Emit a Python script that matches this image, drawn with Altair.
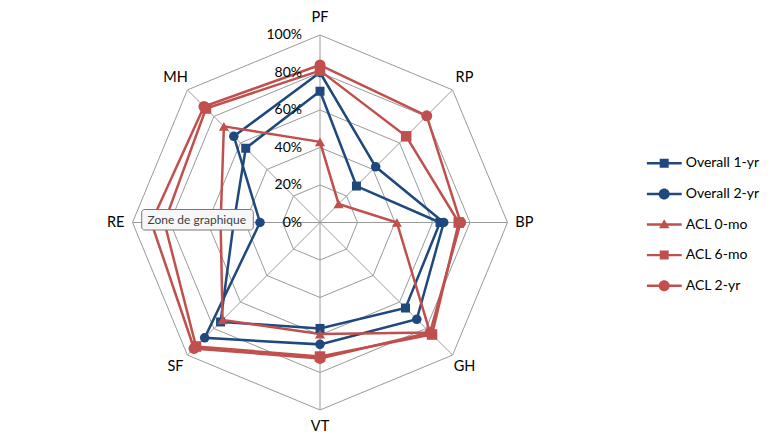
import math
import altair as alt
import pandas as pd

# ---------------- data ----------------
axes = ["PF", "RP", "BP", "GH", "VT", "SF", "RE", "MH"]
series_names = ["Overall 1-yr", "Overall 2-yr", "ACL 0-mo", "ACL 6-mo", "ACL 2-yr"]
overall_1yr = [70, 27.5, 64, 64.5, 56.5, 75, 46, 56]
overall_2yr = [80, 42, 66, 73, 65, 87, 32, 65]
acl_0mo = [43, 14, 41, 83, 59.5, 73.5, 53, 72.5]
acl_6mo = [81, 65, 74, 84.5, 71.5, 93.5, 83, 86]
acl_2yr = [84, 80.5, 75, 83, 72.5, 95, 90, 87.5]
ring_levels = [20, 40, 60, 80, 100]
tick_labels = ["0%", "20%", "40%", "60%", "80%", "100%"]
tick_values = [0, 20, 40, 60, 80, 100]

series_values = [overall_1yr, overall_2yr, acl_0mo, acl_6mo, acl_2yr]
colors = ["#1F497D", "#1F497D", "#C0504D", "#C0504D", "#C0504D"]
shapes = ["square", "circle", "triangle-up", "square", "circle"]
marker_sizes = [81, 121, 100, 81, 121]

n = len(axes)
step = 2 * math.pi / n

rows = []
for s, vals in zip(series_names, series_values):
    for i in range(n + 1):
        rows.append({"series": s, "idx": i, "v": vals[i % n], "a": (i % n) * step,
                     "closing": i == n})
df = pd.DataFrame(rows)

ring_df = pd.DataFrame([{"ring": r, "idx": i, "v": r, "a": (i % n) * step}
                        for r in ring_levels for i in range(n + 1)])
spoke_df = pd.DataFrame([{"axis": a, "v": 100, "a": i * step} for i, a in enumerate(axes)])
label_df = pd.DataFrame([{"axis": a, "v": 109, "a": i * step} for i, a in enumerate(axes)])
tick_df = pd.DataFrame({"label": tick_labels, "v": tick_values})
legend_df = pd.DataFrame({"series": series_names})

# ---------------- scales ----------------
xs = alt.Scale(domain=[-1.664, 2.416], nice=False, zero=False)
ys = alt.Scale(domain=[-1.1547, 1.0907], nice=False, zero=False)

def X(field="x"):
    return alt.X(f"{field}:Q", scale=xs, axis=None)

def Y(field="y"):
    return alt.Y(f"{field}:Q", scale=ys, axis=None)

calc_xy = dict(x="datum.v/100*sin(datum.a)", y="datum.v/100*cos(datum.a)")

grid_color = "#9a9a9a"
font = "Lato"

rings = alt.Chart(ring_df).transform_calculate(**calc_xy).mark_line(
    color=grid_color, strokeWidth=1
).encode(x=X(), y=Y(), detail="ring:N", order="idx:Q")

spokes = alt.Chart(spoke_df).transform_calculate(
    x="datum.v/100*sin(datum.a)", y="datum.v/100*cos(datum.a)", x0="0", y0="0"
).mark_rule(color=grid_color, strokeWidth=1).encode(
    x=X("x0"), y=Y("y0"), x2="x:Q", y2="y:Q"
)

color_scale = alt.Scale(domain=series_names, range=colors)
shape_scale = alt.Scale(domain=series_names, range=shapes)
size_scale = alt.Scale(domain=series_names, range=marker_sizes)

lines = alt.Chart(df).transform_calculate(**calc_xy).mark_line(strokeWidth=2.5).encode(
    x=X(), y=Y(),
    color=alt.Color("series:N", scale=color_scale, legend=None),
    detail="series:N",
    order="idx:Q",
)

points = alt.Chart(df).transform_filter("!datum.closing").transform_calculate(**calc_xy).mark_point(
    filled=True, opacity=1, strokeWidth=0
).encode(
    x=X(), y=Y(),
    color=alt.Color("series:N", scale=color_scale, legend=None),
    shape=alt.Shape("series:N", scale=shape_scale, legend=None),
    size=alt.Size("series:N", scale=size_scale, legend=None),
)

ticks = alt.Chart(tick_df).transform_calculate(x="0", y="datum.v/100").mark_text(
    align="right", baseline="middle", dx=-18, fontSize=14, font=font, color="#000000"
).encode(x=X(), y=Y(), text="label:N")

labels = alt.Chart(label_df).transform_calculate(**calc_xy).mark_text(
    align="center", baseline="middle", fontSize=14.5, font=font, color="#000000"
).encode(x=X(), y=Y(), text="axis:N")

# legend symbols: line + marker as custom paths
line_path = "M-1,-0.07H1V0.07H-1Z"
circle_path = "M-0.314,0A0.314,0.314,0,1,1,0.314,0A0.314,0.314,0,1,1,-0.314,0Z"
square_path = "M-0.257,-0.257H0.257V0.257H-0.257Z"
triangle_path = "M0,-0.3L0.3,0.22L-0.3,0.22Z"
legend_paths = [
    line_path + square_path,
    line_path + circle_path,
    line_path + triangle_path,
    line_path + square_path,
    line_path + circle_path,
]
leg = alt.Legend(
    title=None, orient="none", legendX=638.7, legendY=137.3, padding=0,
    symbolSize=1225, clipHeight=16, rowPadding=14.6, labelOffset=4,
    labelFontSize=14, labelFont=font, labelColor="#000000",
    symbolStrokeWidth=0, symbolOpacity=1,
)
legend_layer = alt.Chart(legend_df).transform_filter("false").mark_point(filled=True).encode(
    x=X("x"), y=Y("y"),
    color=alt.Color("series:N", scale=alt.Scale(domain=series_names, range=colors), legend=leg),
    shape=alt.Shape("series:N", scale=alt.Scale(domain=series_names, range=legend_paths), legend=leg),
)

# Excel hover tooltip seen in the reference
tip_df = pd.DataFrame({"t": ["Zone de graphique"]})
tip_box = alt.Chart(tip_df).mark_rect(
    fill="#f7f7f7", stroke="#767676", strokeWidth=1, cornerRadius=3
).encode(x=alt.value(133.7), x2=alt.value(245.3), y=alt.value(191.5), y2=alt.value(212))
tip_text = alt.Chart(tip_df).mark_text(
    align="left", baseline="middle", fontSize=12, font=font, color="#404040"
).encode(x=alt.value(139.5), y=alt.value(202), text="t:N")

chart = alt.layer(
    rings, spokes, lines, points, ticks, labels, legend_layer, tip_box, tip_text
).resolve_scale(color="independent", shape="independent", size="independent").properties(
    width=765, height=421, autosize=alt.AutoSizeParams(type="none"),
    padding={"top": 10, "left": 0, "right": 0, "bottom": 0},
    background="#ffffff",
).configure_view(stroke=None)

chart.save("out.html", embed_options={"renderer": "svg", "actions": False})
